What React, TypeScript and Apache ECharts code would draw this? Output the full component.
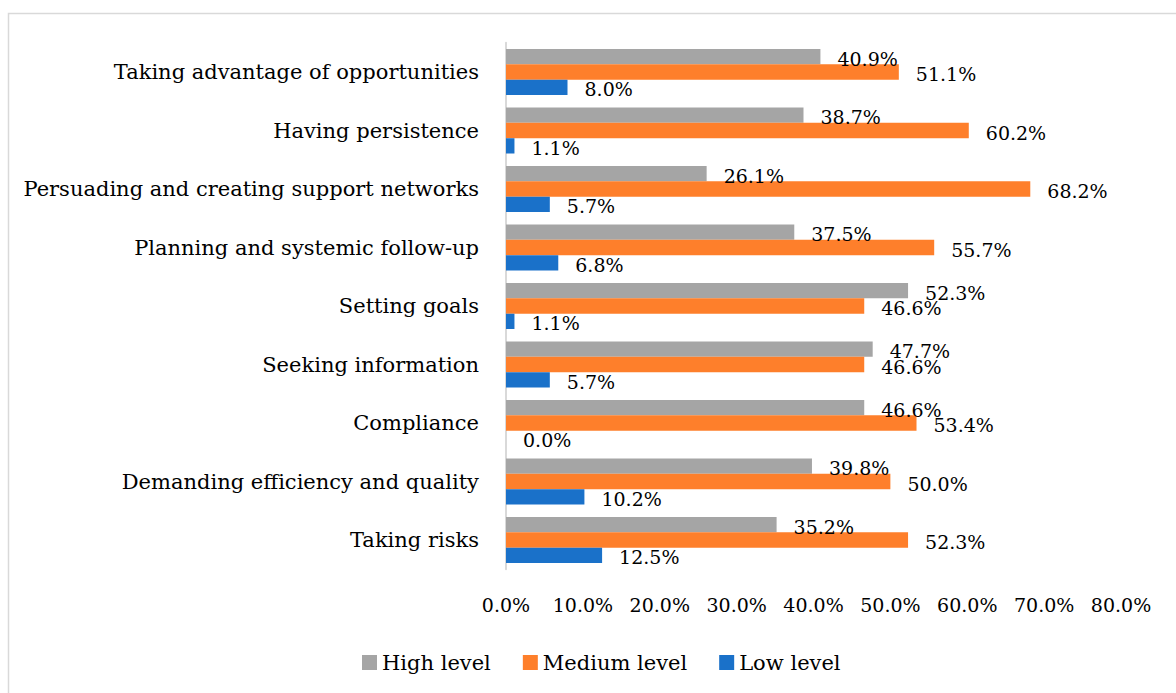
import React, { useEffect, useRef } from "react";
import * as echarts from "echarts";

const categories = [
  "Taking advantage of opportunities",
  "Having persistence",
  "Persuading and creating support networks",
  "Planning and systemic follow-up",
  "Setting goals",
  "Seeking information",
  "Compliance",
  "Demanding efficiency and quality",
  "Taking risks",
];
const highLevel = [40.9, 38.7, 26.1, 37.5, 52.3, 47.7, 46.6, 39.8, 35.2];
const mediumLevel = [51.1, 60.2, 68.2, 55.7, 46.6, 46.6, 53.4, 50.0, 52.3];
const lowLevel = [8.0, 1.1, 5.7, 6.8, 1.1, 5.7, 0.0, 10.2, 12.5];
const seriesNames = ["High level", "Medium level", "Low level"];
const colors = ["#A5A5A5", "#FE7F2B", "#1A71C9"];

const FONT = "DejaVu Serif";

export default function App() {
  const ref = useRef<HTMLDivElement>(null);
  useEffect(() => {
    if (!ref.current) return;
    const chart = echarts.init(ref.current, null, { renderer: "svg" });
    const cats = [...categories].reverse();
    const datasets = [highLevel, mediumLevel, lowLevel].map((a) => [...a].reverse());
    chart.setOption({
      animation: false,
      backgroundColor: "#fff",
      textStyle: { fontFamily: FONT },
      graphic: [
        {
          type: "rect",
          shape: { x: 8.5, y: 13.5, width: 1200, height: 720 },
          style: { fill: "none", stroke: "#D9D9D9", lineWidth: 1.5 },
          silent: true,
        },
      ],
      grid: { left: 506, right: 55, top: 42.75, height: 526.5, containLabel: false },
      legend: {
        data: seriesNames,
        left: 357,
        top: 647,
        icon: "rect",
        itemWidth: 15,
        itemHeight: 15,
        itemGap: 32,
        textStyle: { fontFamily: FONT, fontSize: 21, color: "#000" },
      },
      xAxis: {
        type: "value",
        min: 0,
        max: 80,
        interval: 10,
        axisLine: { show: false },
        axisTick: { show: false },
        splitLine: { show: false },
        axisLabel: {
          formatter: (v: number) => v.toFixed(1) + "%",
          fontFamily: FONT,
          fontSize: 19,
          color: "#000",
          margin: 26,
        },
      },
      yAxis: {
        type: "category",
        data: cats,
        axisLine: { show: true, lineStyle: { color: "#D9D9D9", width: 2 } },
        axisTick: { show: false },
        axisLabel: { fontFamily: FONT, fontSize: 21, color: "#000", margin: 27 },
      },
      series: seriesNames.map((name, i) => ({
        name,
        type: "bar",
        data: datasets[i],
        barGap: "0%",
        barCategoryGap: "21%",
        itemStyle: { color: colors[i] },
        label: {
          show: true,
          position: "right",
          distance: 17,
          formatter: (p: any) => Number(p.value).toFixed(1) + "%",
          fontFamily: FONT,
          fontSize: 19,
          color: "#000",
          offset: [0, 2],
        },
      })),
    });
    return () => chart.dispose();
  }, []);
  return (
    <div
      ref={ref}
      style={{ position: "fixed", left: 0, top: 0, width: 1176, height: 693 }}
    />
  );
}
